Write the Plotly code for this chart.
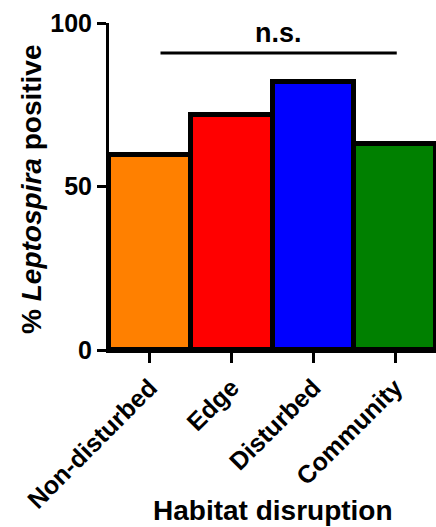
import plotly.graph_objects as go

# Habitat categories and percentage of Leptospira-positive samples
habitats = ["Non-disturbed", "Edge", "Disturbed", "Community"]
percent_positive = [59.5, 72.0, 82.0, 63.0]
bar_colors = ["#FF8000", "#FF0000", "#0000FF", "#008000"]

y_ticks = [0, 50, 100]
sig_label = "n.s."
sig_span = [0.13, 3.02]
sig_y = 90.8

FONT = "Arial, Liberation Sans, sans-serif"

fig = go.Figure()
fig.add_trace(go.Bar(
    x=habitats,
    y=percent_positive,
    marker=dict(color=bar_colors, line=dict(color="black", width=5)),
    width=1.0,
    hoverinfo="x+y",
))

# significance bar spanning the groups
fig.add_shape(type="line", xref="x", yref="y",
              x0=sig_span[0], x1=sig_span[1], y0=sig_y, y1=sig_y,
              line=dict(color="black", width=3))
fig.add_annotation(x=(sig_span[0] + sig_span[1]) / 2, y=97.0, xref="x", yref="y",
                   text="<b>" + sig_label + "</b>", showarrow=False,
                   font=dict(family=FONT, size=27, color="black"))

# axis titles
fig.add_annotation(x=0.5, y=-0.49, xref="paper", yref="paper",
                   text="<b>Habitat disruption</b>", showarrow=False,
                   xanchor="center", yanchor="middle",
                   font=dict(family=FONT, size=28, color="black"))
fig.add_annotation(x=-0.235, y=0.49, xref="paper", yref="paper",
                   text="<b>% <i>Leptospira</i> positive</b>", showarrow=False,
                   textangle=-90, xanchor="center", yanchor="middle",
                   font=dict(family=FONT, size=28, color="black"))

fig.update_layout(
    width=436, height=527,
    margin=dict(l=109, r=0, t=23, b=177),
    paper_bgcolor="white", plot_bgcolor="white",
    showlegend=False,
    bargap=0,
    font=dict(family=FONT, color="black"),
)
fig.update_xaxes(
    range=[-0.5, 3.5],
    showline=True, linecolor="black", linewidth=3,
    ticks="outside", ticklen=10, tickwidth=2.5, tickcolor="black",
    tickangle=-45,
    tickfont=dict(family=FONT, size=25, color="black", weight="bold"),
    showgrid=False, zeroline=False,
)
fig.update_yaxes(
    range=[0, 100],
    tickvals=y_ticks,
    showline=True, linecolor="black", linewidth=3,
    ticks="outside", ticklen=9, tickwidth=2.5, tickcolor="black",
    tickfont=dict(family=FONT, size=25, color="black", weight="bold"),
    showgrid=False, zeroline=False,
)

fig.write_html("out.html")
